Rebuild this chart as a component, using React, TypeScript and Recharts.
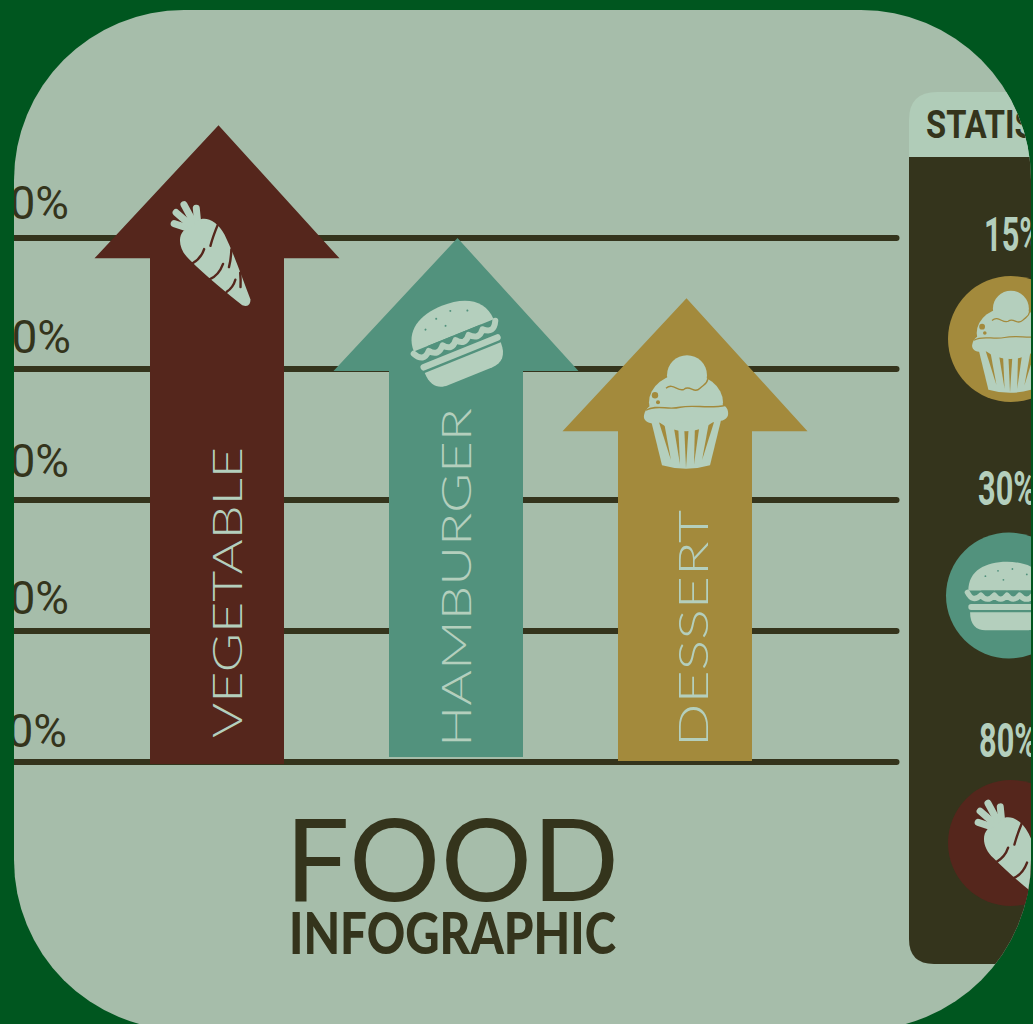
import React from "react";
import { Bar, CartesianGrid, Cell, ComposedChart, Customized, XAxis, YAxis } from "recharts";

const categories = ["VEGETABLE", "HAMBURGER", "DESSERT"];
const arrowValues = [58.6, 50, 45.4];
const tickValues = [10, 20, 30, 40, 50];
const statisticValues = ["15%", "30%", "80%"];
const statisticsTitle = "STATISTICS";
const titleMain = "FOOD";
const titleSub = "INFOGRAPHIC";

const rows = categories.map((name, i) => ({ name, value: arrowValues[i] }));

const FRAME = "#00561f";
const PANEL = "#a6bdaa";
const INK = "#34341c";
const ICE = "#b4cfbd";
const BROWN = "#55261c";
const TEAL = "#52927d";
const GOLD = "#a38a3c";
const arrowColors = [BROWN, TEAL, GOLD];

// Per-arrow drawing details: shaft nudge, foot nudge, and placement of the vertical caption.
const arrowStyle = [
  { dx: 0, foot: 2, captionX: 25, captionY: 738, captionLen: 291 },
  { dx: 5, foot: -5, captionX: 15, captionY: 747, captionLen: 339 },
  { dx: 0, foot: -1, captionX: 23, captionY: 747, captionLen: 237 },
];

// Hand-set label placement for the percentage ticks.
const tickStyle: Record<number, { right: number; lift: number }> = {
  10: { right: 67, lift: 15 },
  20: { right: 69, lift: 17 },
  30: { right: 69, lift: 23 },
  40: { right: 71, lift: 16 },
  50: { right: 69, lift: 19 },
};

function Carrot({ x, y, fill, scale = 1 }: { x: number; y: number; fill: string; scale?: number }) {
  return (
    <g transform={`translate(${x} ${y}) rotate(-35) scale(${scale})`}>
      <g stroke={ICE} strokeWidth={7} strokeLinecap="round" fill="none">
        <path d="M-2,-30 L-14,-46" />
        <path d="M0,-30 L-6,-54" />
        <path d="M2,-30 L5,-56" />
        <path d="M4,-30 L13,-46" />
      </g>
      <path
        d="M-10,-35 C-20,-33 -25,-20 -22,-8 C-18,16 -10,42 -5,60 Q0,67 5,60 C10,40 17,16 21,-8 C23,-24 16,-35 7,-35 Q-1,-31 -10,-35 Z"
        fill={ICE}
      />
      <g stroke={fill} strokeWidth={2.4} strokeLinecap="round" fill="none">
        <path d="M21,-20 Q10,-13 3,-7" />
        <path d="M-22,-3 Q-12,-2 -4,-8" />
        <path d="M-17,20 Q-7,22 3,15" />
        <path d="M18,8 Q12,16 6,21" />
        <path d="M-10,40 Q-2,40 4,35" />
        <path d="M12,32 Q8,39 4,44" />
      </g>
    </g>
  );
}

function Burger({ x, y, fill, angle = 0, scale = 1 }: { x: number; y: number; fill: string; angle?: number; scale?: number }) {
  return (
    <g transform={`translate(${x} ${y}) rotate(${angle}) scale(${scale})`}>
      <path d="M-43,-6 C-43,-28 -24,-38 0,-38 C24,-38 43,-28 43,-6 Z" fill={ICE} />
      <g fill={fill}>
        <circle cx={-24} cy={-22} r={1} />
        <circle cx={-10} cy={-28} r={1} />
        <circle cx={6} cy={-30} r={1} />
        <circle cx={22} cy={-24} r={1} />
        <circle cx={-4} cy={-18} r={1} />
      </g>
      <path
        d="M-44,-4 Q-38,8 -29,-1 Q-22,8 -14,-1 Q-7,8 0,-1 Q7,8 14,-1 Q22,8 29,-1 Q38,8 44,-4"
        fill="none"
        stroke={ICE}
        strokeWidth={6}
        strokeLinecap="round"
        strokeLinejoin="round"
      />
      <path d="M-29,-6 L-21,0 L-14,-6 L-7,0 L0,-6 L7,0 L14,-6 L21,0 L29,-6 Z" fill={fill} />
      <rect x={-43} y={9} width={86} height={6.5} rx={3.2} fill={ICE} />
      <path d="M-41,18 L41,18 C41,32 34,38 24,38 L-24,38 C-34,38 -41,32 -41,18 Z" fill={ICE} />
    </g>
  );
}

function Cupcake({ x, y, fill, scale = 1 }: { x: number; y: number; fill: string; scale?: number }) {
  return (
    <g transform={`translate(${x} ${y}) scale(${scale})`}>
      <path d="M-36,4 L-24,53 Q0,60 24,53 L36,4 Z" fill={ICE} />
      <g fill={fill}>
        <path d="M-27,10 L-15,48 L-22,10 Z" />
        <path d="M-13,10 L-6,52 L-8,10 Z" />
        <path d="M-2,10 L0,56 L3,10 Z" />
        <path d="M9,10 L8,52 L14,10 Z" />
        <path d="M23,10 L16,48 L28,10 Z" />
      </g>
      <ellipse cx={0} cy={-10} rx={37} ry={29} fill={ICE} />
      <circle cx={1} cy={-37} r={20} fill={ICE} />
      <path
        d="M-42,3 C-40,-6 -34,-8 -28,-7 C-20,-11 -6,-7 2,-8 C14,-10 26,-7 34,-8 C40,-8 43,-2 42,3 C40,9 32,10 26,8 C16,12 6,8 -4,10 C-14,13 -24,8 -30,11 C-38,12 -43,8 -42,3 Z"
        fill={ICE}
      />
      <path d="M-40,-2 C-30,-8 -18,-2 -6,-5 C8,-8 22,-3 40,-7" fill="none" stroke={fill} strokeWidth={1.4} />
      <path
        d="M-20,-24 C-13,-30 -8,-20 -2,-23 C4,-28 8,-18 14,-24 C18,-28 21,-28 22,-34"
        fill="none"
        stroke={fill}
        strokeWidth={1.4}
      />
      <circle cx={-31} cy={-17} r={3.2} fill={fill} />
      <circle cx={-28} cy={-10} r={2} fill={fill} />
    </g>
  );
}

function ArrowShape(props: any) {
  const { x, y, width, height, index, payload } = props;
  const style = arrowStyle[index];
  const color = arrowColors[index];
  const cx = x + width / 2 + style.dx;
  const left = cx - width / 2;
  const right = cx + width / 2;
  const headHalf = 122.5;
  const headHeight = 133;
  const shoulder = y + headHeight;
  const foot = y + height + style.foot;
  const d = [
    `M${cx + 1.5},${y}`,
    `L${cx + headHalf},${shoulder}`,
    `L${right},${shoulder}`,
    `L${right},${foot}`,
    `L${left},${foot}`,
    `L${left},${shoulder}`,
    `L${cx - headHalf},${shoulder}`,
    "Z",
  ].join(" ");
  const captionX = cx + style.captionX;
  return (
    <g>
      <path d={d} fill={color} />
      <text
        transform={`translate(${captionX} ${style.captionY}) rotate(-90)`}
        fontFamily="Lato"
        fontWeight={300}
        fontSize={41}
        fill={ICE}
        textLength={style.captionLen}
        lengthAdjust="spacingAndGlyphs"
      >
        {payload.name}
      </text>
      {index === 0 && <Carrot x={cx - 5} y={y + 128} fill={color} />}
      {index === 1 && <Burger x={cx} y={y + 103} fill={color} angle={-22} />}
      {index === 2 && <Cupcake x={cx + 1} y={y + 114} fill={color} />}
    </g>
  );
}

function PercentTick(props: any) {
  const { y, payload } = props;
  const style = tickStyle[payload.value];
  return (
    <text x={style.right} y={y - style.lift} textAnchor="end" fontFamily="Roboto" fontSize={46} fill={INK}>
      {`${payload.value}%`}
    </text>
  );
}

function StatisticsPanel() {
  const numberStyle = {
    fontFamily: "Roboto",
    fontWeight: 700,
    fontSize: 49,
    fill: ICE,
    textLength: 58,
    lengthAdjust: "spacingAndGlyphs",
  } as const;
  return (
    <g>
      <path d="M909,157 L1040,157 L1040,964 L934,964 Q909,964 909,939 Z" fill={INK} />
      <path d="M909,157 L909,120 Q909,92 937,92 L1040,92 L1040,157 Z" fill="#b0ccb8" />
      <text
        x={926}
        y={138}
        fontFamily="Roboto"
        fontWeight={700}
        fontSize={39}
        fill={INK}
        textLength={180}
        lengthAdjust="spacingAndGlyphs"
      >
        {statisticsTitle}
      </text>

      <text x={984} y={251} {...numberStyle}>
        {statisticValues[0]}
      </text>
      <circle cx={1011} cy={339} r={63} fill={GOLD} />
      <Cupcake x={1010} y={342} fill={GOLD} scale={0.9} />

      <text x={978} y={505} {...numberStyle}>
        {statisticValues[1]}
      </text>
      <circle cx={1009} cy={595.5} r={63} fill={TEAL} />
      <Burger x={1007} y={596} fill={TEAL} scale={0.9} />

      <text x={979} y={757} {...numberStyle}>
        {statisticValues[2]}
      </text>
      <circle cx={1011} cy={843} r={63} fill={BROWN} />
      <Carrot x={1016} y={852} fill={BROWN} />
    </g>
  );
}

function ChartTitle() {
  return (
    <g fill={INK}>
      <text x={285} y={901} fontFamily="Lato" fontSize={114} textLength={334} lengthAdjust="spacing">
        {titleMain}
      </text>
      <text x={289} y={954} fontFamily="Lato" fontWeight={900} fontSize={57} textLength={327} lengthAdjust="spacingAndGlyphs">
        {titleSub}
      </text>
    </g>
  );
}

export default function App() {
  return (
    <div style={{ position: "fixed", left: 0, top: 0, width: 1033, height: 1024, overflow: "hidden", background: FRAME }}>
      <div
        style={{
          position: "absolute",
          left: 14,
          top: 10,
          width: 1017,
          height: 1020,
          borderRadius: 170,
          overflow: "hidden",
          background: PANEL,
        }}
      >
        <div style={{ position: "absolute", left: -14, top: -10 }}>
          <ComposedChart
            width={1033}
            height={1024}
            data={rows}
            margin={{ top: 107, right: 136.5, bottom: 262, left: 13 }}
          >
            <CartesianGrid
              vertical={false}
              stroke={INK}
              strokeWidth={6}
              strokeLinecap="round"
              syncWithTicks
            />
            <XAxis dataKey="name" hide padding={{ left: 86, right: 94.5 }} />
            <YAxis
              type="number"
              domain={[10, 60]}
              ticks={tickValues}
              width={1}
              axisLine={false}
              tickLine={false}
              tick={PercentTick}
              interval={0}
            />
            <Bar dataKey="value" barSize={134} isAnimationActive={false} shape={ArrowShape}>
              {rows.map((row, i) => (
                <Cell key={row.name} fill={arrowColors[i]} />
              ))}
            </Bar>
            <Customized component={StatisticsPanel} />
            <Customized component={ChartTitle} />
          </ComposedChart>
        </div>
      </div>
    </div>
  );
}
